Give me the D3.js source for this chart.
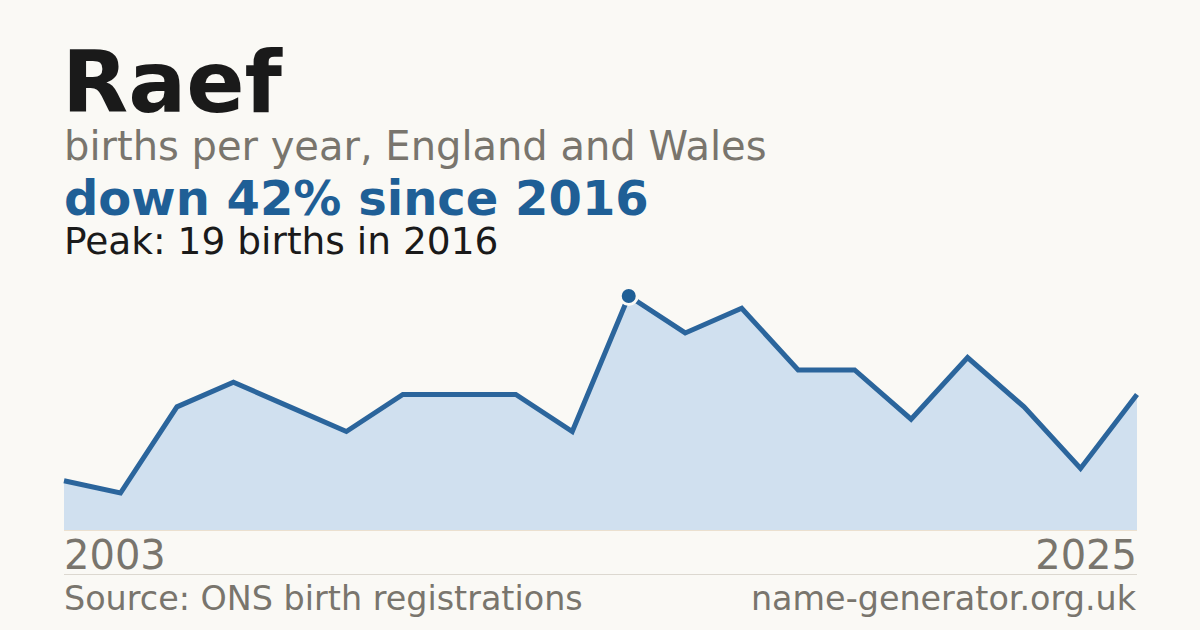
<!DOCTYPE html>
<html><head><meta charset="utf-8">
<script src="https://cdn.jsdelivr.net/npm/d3@7"></script>
<style>html,body{margin:0;padding:0;background:#faf9f5;}svg{display:block;}</style>
</head><body>
<svg id="c" width="1200" height="630"></svg>
<script>
const years = [2003,2004,2005,2006,2008,2009,2010,2012,2013,2015,2016,2017,2018,2019,2020,2021,2022,2023,2024,2025];
const births = [4,3,10,12,10,8,11,11,11,8,19,16,18,13,13,9,14,10,5,11];
const tickLabels = ["2003","2025"];
const title = "Raef";
const subtitle = "births per year, England and Wales";
const headline = "down 42% since 2016";
const peakNote = "Peak: 19 births in 2016";
const source = "Source: ONS birth registrations";
const site = "name-generator.org.uk";

const svg = d3.select("#c");
const font = "'DejaVu Sans', sans-serif";
svg.append("rect").attr("width",1200).attr("height",630).attr("fill","#faf9f5");

const x = d3.scalePoint().domain(years).range([64,1137]);
const y = d3.scaleLinear().domain([0,d3.max(births)]).range([530,296]);
const data = years.map((yr,i)=>({yr, v:births[i]}));

svg.append("path").datum(data)
  .attr("d", d3.area().x(d=>x(d.yr)).y0(y(0)).y1(d=>y(d.v)))
  .attr("fill","#d0e0ef");
svg.append("line").attr("x1",64).attr("x2",1137).attr("y1",y(0)+0.5).attr("y2",y(0)+0.5)
  .attr("stroke","#ebe0cf").attr("stroke-width",1);
svg.append("path").datum(data)
  .attr("d", d3.line().x(d=>x(d.yr)).y(d=>y(d.v)))
  .attr("fill","none").attr("stroke","#2b659c").attr("stroke-width",5).attr("stroke-linejoin","miter");

const peak = data.reduce((a,b)=>b.v>a.v?b:a);
svg.append("circle").attr("cx",x(peak.yr)).attr("cy",y(peak.v)).attr("r",8.5)
  .attr("fill","#1f5f96").attr("stroke","#faf9f5").attr("stroke-width",3);

function txt(s,xx,yy,size,weight,color,anchor){
  svg.append("text").text(s).attr("x",xx).attr("y",yy)
    .attr("font-family",font).attr("font-size",size).attr("font-weight",weight)
    .attr("fill",color).attr("text-anchor",anchor||"start");
}
txt(title,62,112,86,"bold","#1a1a1a");
txt(subtitle,64,160,40,"normal","#79756d");
txt(headline,64,215,48,"bold","#1f5f96");
txt(peakNote,64,254,37.5,"normal","#1a1a1a");

txt(tickLabels[0],x(years[0]),569,40,"normal","#79756d","start");
txt(tickLabels[1],x(years[years.length-1]),569,40,"normal","#79756d","end");

svg.append("line").attr("x1",64).attr("x2",1137).attr("y1",574.5).attr("y2",574.5)
  .attr("stroke","#dcd8d0").attr("stroke-width",1);
txt(source,64,610,33.4,"normal","#79756d");
txt(site,1136,610,33.4,"normal","#79756d","end");
</script>
</body></html>
